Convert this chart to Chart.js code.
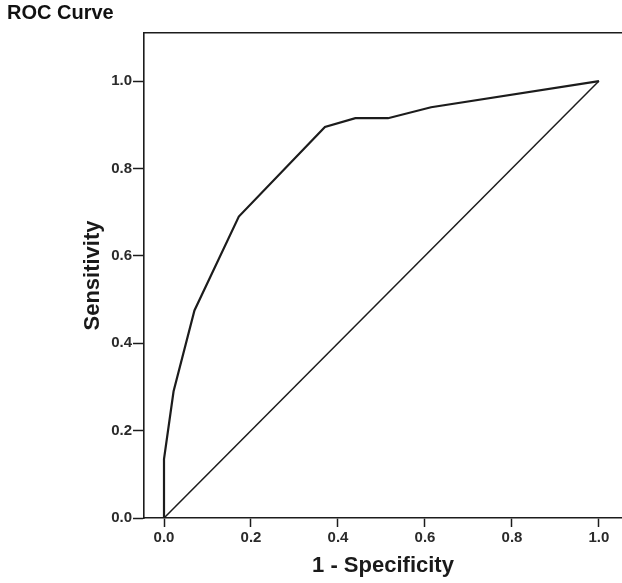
<!DOCTYPE html>
<html>
<head>
<meta charset="utf-8">
<script src="https://cdn.jsdelivr.net/npm/chart.js@4"></script>
<style>
  html, body { margin: 0; padding: 0; background: #fff; }
  #wrap { width: 622px; height: 583px; }
</style>
</head>
<body>
<div id="wrap"><canvas id="roc" width="622" height="583"></canvas></div>
<script>
// ROC curve points
var fpr = [0, 0, 0.022, 0.07, 0.172, 0.37, 0.44, 0.515, 0.614, 1.0];
var tpr = [0, 0.135, 0.29, 0.475, 0.69, 0.895, 0.915, 0.915, 0.94, 1.0];
// reference diagonal
var refX = [0, 1];
var refY = [0, 1];

function toPoints(xs, ys) {
    return xs.map(function (x, i) { return { x: x, y: ys[i] }; });
}

var ink = '#1c1c1c';
var fontFam = '"Liberation Sans", Arial, sans-serif';

new Chart(document.getElementById('roc'), {
    type: 'scatter',
    data: {
        datasets: [{
            label: 'ROC',
            data: toPoints(fpr, tpr),
            showLine: true,
            borderColor: ink,
            borderWidth: 2.2,
            pointRadius: 0,
            tension: 0
        }, {
            label: 'Reference',
            data: toPoints(refX, refY),
            showLine: true,
            borderColor: ink,
            borderWidth: 1.5,
            pointRadius: 0
        }]
    },
    options: {
        responsive: false,
        animation: false,
        layout: { padding: { left: 7, right: 0, top: 0, bottom: 0 } },
        plugins: {
            legend: { display: false },
            tooltip: { enabled: false },
            title: {
                display: true,
                text: 'ROC Curve',
                align: 'start',
                color: '#111',
                font: { family: fontFam, size: 20, weight: 'bold' },
                padding: { top: 1, bottom: 0 }
            }
        },
        scales: {
            x: {
                type: 'linear',
                min: -0.046,
                max: 1.053,
                afterFit: function (s) { s.height = 65; },
                border: { display: true, color: ink, width: 1.6 },
                grid: { display: true, drawOnChartArea: false, tickLength: 9, tickColor: ink, tickWidth: 1.5 },
                ticks: {
                    stepSize: 0.2,
                    includeBounds: false,
                    padding: 2,
                    color: '#2a2a2a',
                    font: { family: fontFam, size: 15, weight: 'bold' },
                    callback: function (v) { return v.toFixed(1); }
                },
                title: {
                    display: true,
                    text: '1 - Specificity',
                    color: '#1a1a1a',
                    font: { family: fontFam, size: 22, weight: 'bold' },
                    padding: { top: 0 }
                }
            },
            x2: {
                type: 'linear',
                position: 'top',
                min: -0.046,
                max: 1.053,
                afterFit: function (s) { s.height = 33 - 25; },
                border: { display: true, color: ink, width: 1.6 },
                grid: { display: false },
                ticks: { display: false }
            },
            y: {
                type: 'linear',
                min: 0,
                max: 1.11,
                afterFit: function (s) { s.width = 137; },
                border: { display: true, color: ink, width: 1.6 },
                grid: { display: true, drawOnChartArea: false, tickLength: 11, tickColor: ink, tickWidth: 1.5 },
                ticks: {
                    stepSize: 0.2,
                    includeBounds: false,
                    padding: 1,
                    color: '#2a2a2a',
                    font: { family: fontFam, size: 15, weight: 'bold' },
                    callback: function (v) { return v.toFixed(1); }
                },
                title: {
                    display: true,
                    text: 'Sensitivity',
                    color: '#1a1a1a',
                    font: { family: fontFam, size: 22, weight: 'bold' },
                    padding: { top: 73, bottom: 0 }
                }
            }
        }
    }
});
</script>
</body>
</html>
